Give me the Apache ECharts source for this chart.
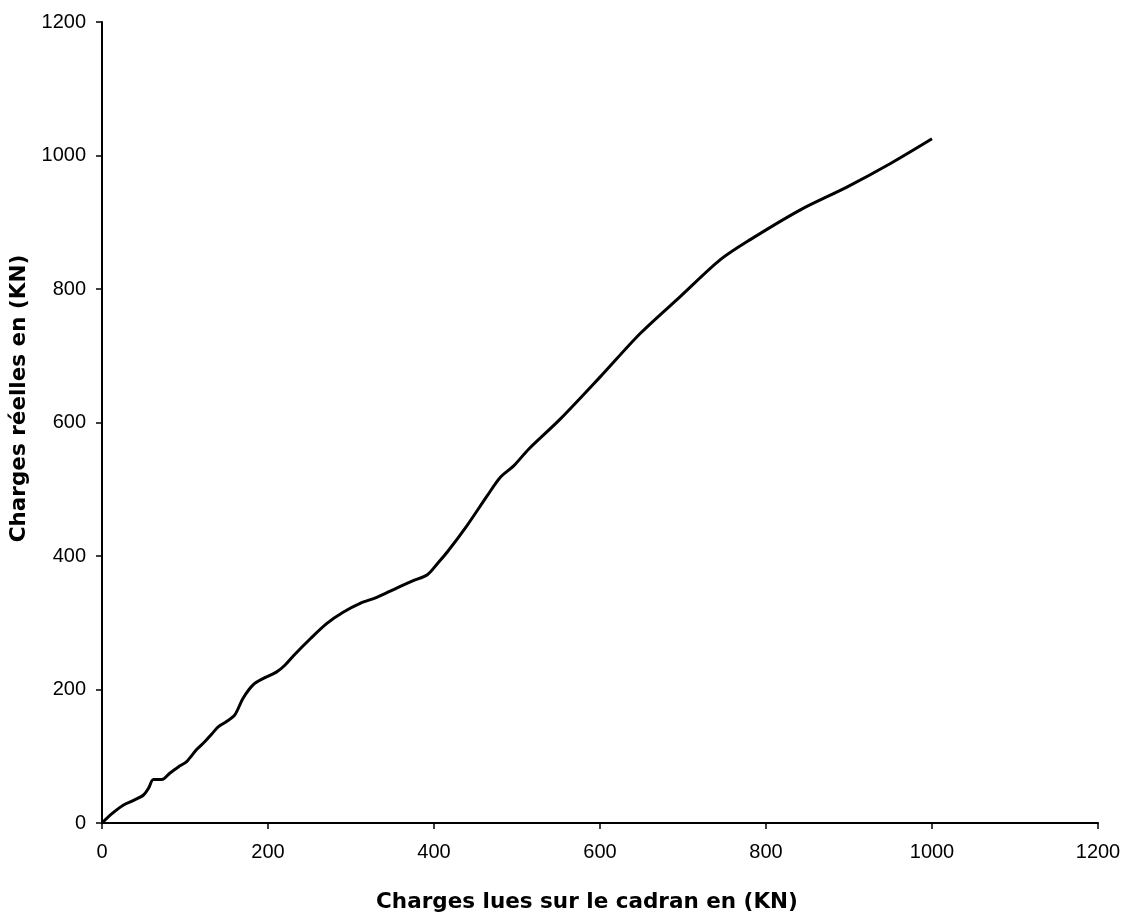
<!DOCTYPE html>
<html>
<head>
<meta charset="utf-8">
<script src="https://cdn.jsdelivr.net/npm/echarts@6/dist/echarts.min.js"></script>
<style>
  html, body { margin: 0; padding: 0; background: #fff; }
  #chart { width: 1131px; height: 918px; }
</style>
</head>
<body>
<div id="chart"></div>
<script>
// Dial reading (KN) against real load (KN)
const chargesLues = [0, 12, 26, 38, 50, 56, 62, 72, 82, 92, 102, 114, 124, 132, 140, 150, 160, 170, 182, 195, 210, 220, 231, 251, 271, 291, 311, 331, 355, 375, 392, 405, 416, 440, 464, 480, 496, 514, 552, 600, 649, 697, 745, 781, 842, 898, 950, 1000];
const chargesReelles = [0, 14, 27, 34, 42, 52, 65, 65, 75, 84, 92, 110, 122, 133, 144, 152, 162, 187, 207, 217, 226, 236, 251, 276, 299, 316, 329, 338, 352, 363, 372, 390, 406, 446, 490, 518, 535, 560, 605, 668, 734, 789, 844, 874, 919, 953, 988, 1025];
const axisMax = 1200;
const axisStep = 200;

const points = chargesLues.map((x, i) => [x, chargesReelles[i]]);

const chart = echarts.init(document.getElementById('chart'));
const labelFont = { fontFamily: 'Liberation Sans, Arial, sans-serif', fontSize: 20, color: '#000' };
const nameFont = { fontFamily: 'DejaVu Sans, sans-serif', fontSize: 21.5, fontWeight: 'bold', color: '#000' };
const plain = v => String(v);

chart.setOption({
  backgroundColor: '#fff',
  animation: false,
  grid: { left: 102, right: 33, top: 22, bottom: 93 },
  xAxis: {
    type: 'value',
    min: 0, max: axisMax, interval: axisStep,
    name: 'Charges lues sur le cadran en (KN)',
    nameLocation: 'middle',
    nameGap: 68,
    nameTextStyle: Object.assign({ padding: [0, 26, 0, 0] }, nameFont),
    axisLine: { show: true, lineStyle: { color: '#000', width: 2 } },
    axisTick: { show: true, inside: false, length: 6, lineStyle: { color: '#000', width: 1.5 } },
    axisLabel: Object.assign({ margin: 19, formatter: plain }, labelFont),
    splitLine: { show: false }
  },
  yAxis: {
    type: 'value',
    min: 0, max: axisMax, interval: axisStep,
    name: 'Charges réelles en (KN)',
    nameLocation: 'middle',
    nameGap: 61,
    nameTextStyle: Object.assign({ padding: [0, 0, 0, 48] }, nameFont),
    axisLine: { show: true, lineStyle: { color: '#000', width: 2 } },
    axisTick: { show: true, inside: false, length: 6, lineStyle: { color: '#000', width: 1.5 } },
    axisLabel: Object.assign({ margin: 16, formatter: plain }, labelFont),
    splitLine: { show: false }
  },
  series: [{
    type: 'line',
    data: points,
    smooth: 0.3,
    showSymbol: false,
    lineStyle: { color: '#000', width: 3 }
  }]
});
</script>
</body>
</html>
